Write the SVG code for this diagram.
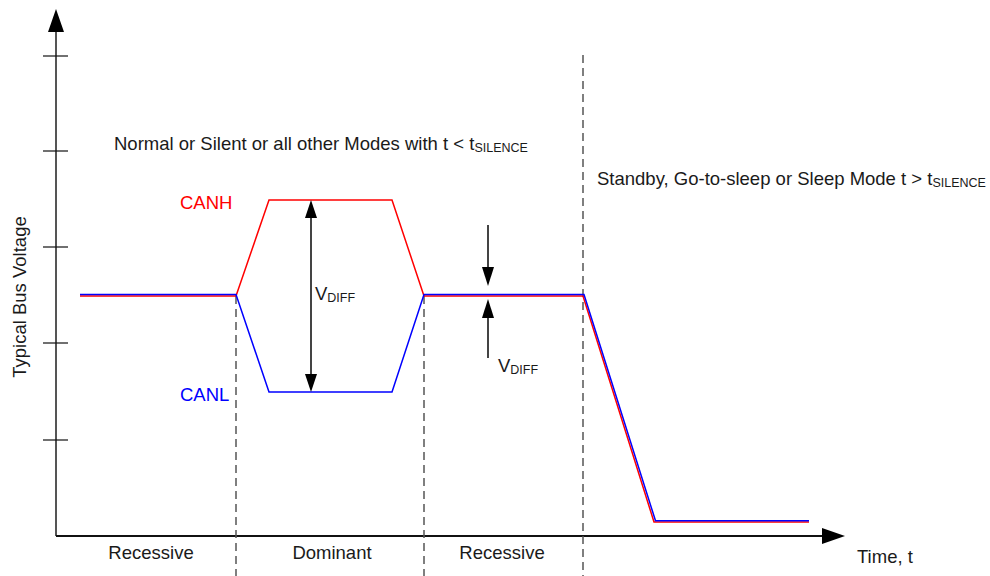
<svg xmlns="http://www.w3.org/2000/svg" width="990" height="576" viewBox="0 0 990 576">
<defs>
<style>
text{font-family:"Liberation Sans",Arial,sans-serif;fill:#1a1a1a;font-size:18.5px}
.sub{font-size:12.5px}
.axis{stroke:#555;stroke-width:2;fill:none}
.xaxis{stroke:#111;stroke-width:2;fill:none}
.tick{stroke:#111;stroke-width:1.2}
.dash{stroke:#555;stroke-width:1.5;stroke-dasharray:8,5;fill:none}
.canh{stroke:#f00;stroke-width:1.5;fill:none}
.canl{stroke:#00f;stroke-width:1.5;fill:none}
.dim{stroke:#444;stroke-width:2;fill:none}
.head{fill:#000}
</style>
</defs>
<g id="axes">
<line class="axis" x1="56" y1="536" x2="56" y2="30"/>
<polygon class="head" points="56,9 48,32 64,32"/>
<line class="xaxis" x1="56" y1="536" x2="824" y2="536"/>
<polygon class="head" points="845,536 822,528 822,544"/>
<line class="tick" x1="43" y1="56" x2="68" y2="56"/>
<line class="tick" x1="43" y1="151" x2="68" y2="151"/>
<line class="tick" x1="43" y1="247" x2="68" y2="247"/>
<line class="tick" x1="43" y1="343" x2="68" y2="343"/>
<line class="tick" x1="43" y1="440" x2="68" y2="440"/>
</g>
<g id="connectors">
<line class="dash" x1="236" y1="296" x2="236" y2="576"/>
<line class="dash" x1="424" y1="296" x2="424" y2="576"/>
<line class="dash" x1="583" y1="55" x2="583" y2="576"/>
</g>
<g id="canh">
<polyline class="canh" points="80,296 236,296 269,200 392,200 424,296 583,296 654,522 809,522"/>
</g>
<g id="canl">
<polyline class="canl" points="80,294.5 236,294.5 269,392 392,392 424,294.5 584,294.5 655.5,520.8 809,520.8"/>
</g>
<g id="vdiff1">
<line class="dim" x1="311" y1="215" x2="311" y2="377"/>
<polygon class="head" points="311,200 305,218 317,218"/>
<polygon class="head" points="311,392 305,374 317,374"/>
<text x="315" y="300">V<tspan class="sub" dy="2">DIFF</tspan></text>
</g>
<g id="vdiff2">
<line class="dim" x1="488" y1="225" x2="488" y2="270"/>
<polygon class="head" points="488,286 482,267 494,267"/>
<line class="dim" x1="488" y1="315" x2="488" y2="358"/>
<polygon class="head" points="488,299 482,318 494,318"/>
<text x="498" y="372">V<tspan class="sub" dy="2">DIFF</tspan></text>
</g>
<g id="labels">
<text x="180" y="209" style="fill:#f00">CANH</text>
<text x="180" y="401" style="fill:#00f">CANL</text>
<text x="114" y="150">Normal or Silent or all other Modes with t &lt; t<tspan class="sub" dy="2">SILENCE</tspan></text>
<text x="597" y="185">Standby, Go-to-sleep or Sleep Mode t &gt; t<tspan class="sub" dy="2">SILENCE</tspan></text>
<text x="26" y="297" text-anchor="middle" transform="rotate(-90 26 297)">Typical Bus Voltage</text>
<text x="151" y="559" text-anchor="middle">Recessive</text>
<text x="332" y="559" text-anchor="middle">Dominant</text>
<text x="502" y="559" text-anchor="middle">Recessive</text>
<text x="857" y="563">Time, t</text>
</g>
</svg>
